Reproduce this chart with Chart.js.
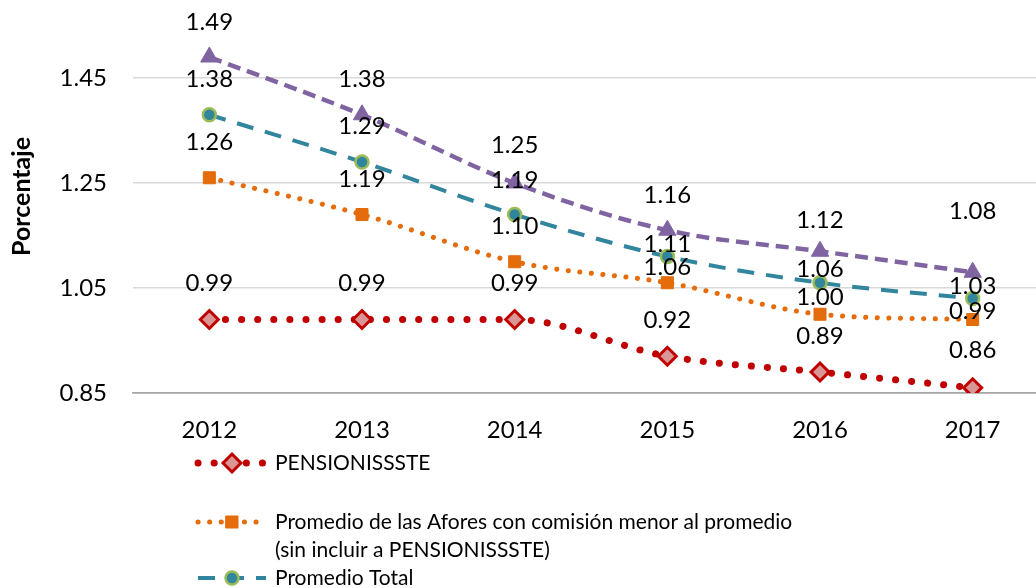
<!DOCTYPE html>
<html>
<head>
<meta charset="utf-8">
<script src="https://cdn.jsdelivr.net/npm/chart.js@4.4.1/dist/chart.umd.min.js"></script>
<style>
  html, body { margin: 0; padding: 0; background: #fff; overflow: hidden; }
  #wrap { width: 1049px; height: 588px; }
</style>
</head>
<body>
<div id="wrap"><canvas id="rendChart" width="1049" height="588"></canvas></div>
<script>
const years = ["2012", "2013", "2014", "2015", "2016", "2017"];
const pensionissste = [0.99, 0.99, 0.99, 0.92, 0.89, 0.86];
const menorPromedio = [1.26, 1.19, 1.10, 1.06, 1.00, 0.99];
const promedioTotal = [1.38, 1.29, 1.19, 1.11, 1.06, 1.03];
const mayorPromedio = [1.49, 1.38, 1.25, 1.16, 1.12, 1.08];
const yTicks = [0.85, 1.05, 1.25, 1.45];

const seriesNames = [
  ["PENSIONISSSTE"],
  ["Promedio de las Afores con comisión menor al promedio", "(sin incluir a PENSIONISSSTE)"],
  ["Promedio Total"],
  ["Promedio de las Afores con comisión mayor al promedio"]
];

// how far above each point its value label sits (px), some were nudged by hand
const labelLift = [
  [36, 36, 36, 36, 36, 37],
  [35, 35, 35, 15, 17, 8],
  [35, 36, 34, 12, 13, 12],
  [35, 35, 38, 35, 31, 61]
];

const FONT = "Lato, 'Open Sans', sans-serif";

// value labels over the points
const valueLabels = {
  id: "valueLabels",
  afterDatasetsDraw(chart) {
    const ctx = chart.ctx;
    ctx.save();
    ctx.font = "24px " + FONT;
    ctx.fillStyle = "#000";
    ctx.textAlign = "center";
    ctx.textBaseline = "middle";
    chart.data.datasets.forEach((ds, i) => {
      chart.getDatasetMeta(i).data.forEach((pt, j) => {
        ctx.fillText(ds.data[j].toFixed(2), pt.x, pt.y - labelLift[i][j]);
      });
    });
    ctx.restore();
  }
};

// vertical legend under the axis, like the original
const sideLegend = {
  id: "sideLegend",
  afterDraw(chart) {
    const ctx = chart.ctx;
    const rows = [463, 522, 578, 634];
    ctx.save();
    chart.data.datasets.forEach((ds, i) => {
      const y = rows[i];
      ctx.beginPath();
      ctx.setLineDash(ds.borderDash || []);
      ctx.lineCap = ds.borderCapStyle || "butt";
      ctx.lineWidth = ds.borderWidth;
      ctx.strokeStyle = ds.borderColor;
      ctx.moveTo(198, y);
      ctx.lineTo(266, y);
      ctx.stroke();
      ctx.setLineDash([]);
      ctx.fillStyle = ds.pointBackgroundColor;
      ctx.strokeStyle = ds.pointBorderColor;
      ctx.lineWidth = ds.pointBorderWidth;
      Chart.helpers.drawPoint(ctx, {
        pointStyle: ds.pointStyle, radius: ds.pointRadius, rotation: 0, borderWidth: ds.pointBorderWidth
      }, 232, y);
      ctx.fillStyle = "#000";
      ctx.font = "21px " + FONT;
      ctx.textAlign = "left";
      ctx.textBaseline = "middle";
      seriesNames[i].forEach((line, k) => ctx.fillText(line, 275, y + k * 28));
    });
    ctx.restore();
  }
};

new Chart(document.getElementById("rendChart"), {
  type: "line",
  data: {
    labels: years,
    datasets: [
      {
        label: seriesNames[0].join(" "),
        data: pensionissste,
        borderColor: "#C00000",
        borderWidth: 7,
        borderDash: [0.1, 16],
        borderCapStyle: "round",
        pointStyle: "rectRot",
        pointRadius: 9,
        pointBackgroundColor: "#D99694",
        pointBorderColor: "#C00000",
        pointBorderWidth: 3,
        cubicInterpolationMode: "monotone"
      },
      {
        label: seriesNames[1].join(" "),
        data: menorPromedio,
        borderColor: "#E46C0A",
        borderWidth: 5,
        borderDash: [0.1, 11.5],
        borderCapStyle: "round",
        pointStyle: "rect",
        pointRadius: 8.5,
        pointBackgroundColor: "#E46C0A",
        pointBorderColor: "#E46C0A",
        pointBorderWidth: 1,
        cubicInterpolationMode: "monotone"
      },
      {
        label: seriesNames[2].join(" "),
        data: promedioTotal,
        borderColor: "#31859C",
        borderWidth: 4,
        borderDash: [17, 12],
        pointStyle: "circle",
        pointRadius: 6.5,
        pointBackgroundColor: "#31859C",
        pointBorderColor: "#9BBB59",
        pointBorderWidth: 2.5,
        cubicInterpolationMode: "monotone"
      },
      {
        label: seriesNames[3].join(" "),
        data: mayorPromedio,
        borderColor: "#8064A2",
        borderWidth: 4.5,
        borderDash: [13, 7],
        pointStyle: "triangle",
        pointRadius: 10,
        pointBackgroundColor: "#8064A2",
        pointBorderColor: "#8064A2",
        pointBorderWidth: 1,
        cubicInterpolationMode: "monotone"
      }
    ]
  },
  options: {
    responsive: false,
    animation: false,
    layout: { autoPadding: false, padding: 0 },
    plugins: {
      legend: { display: false },
      tooltip: { enabled: false }
    },
    scales: {
      x: {
        offset: true,
        grid: { display: false, drawTicks: false },
        border: { display: true, color: "#A6A6A6", width: 1.5 },
        ticks: { padding: 23, color: "#000", font: { family: FONT, size: 24 } },
        afterFit: (s) => { s.height = 195; s.paddingLeft = 0; s.paddingRight = 0; }
      },
      y: {
        min: 0.85,
        max: 1.5986,
        afterBuildTicks: (s) => { s.ticks = yTicks.map((v) => ({ value: v })); },
        grid: {
          drawTicks: false,
          color: (c) => (c.tick && c.tick.value === 0.85 ? "#A6A6A6" : "#D9D9D9"),
          lineWidth: 1.5
        },
        border: { display: false },
        ticks: {
          padding: 26,
          color: "#000",
          font: { family: FONT, size: 24 },
          callback: (v) => Number(v).toFixed(2)
        },
        title: {
          display: true,
          text: "Porcentaje",
          color: "#000",
          font: { family: FONT, size: 25, weight: "bold" },
          padding: { top: 7, bottom: 0 }
        },
        afterFit: (s) => { s.width = 133; s.paddingTop = 0; s.paddingBottom = 0; }
      }
    }
  },
  plugins: [valueLabels, sideLegend]
});
</script>
</body>
</html>
